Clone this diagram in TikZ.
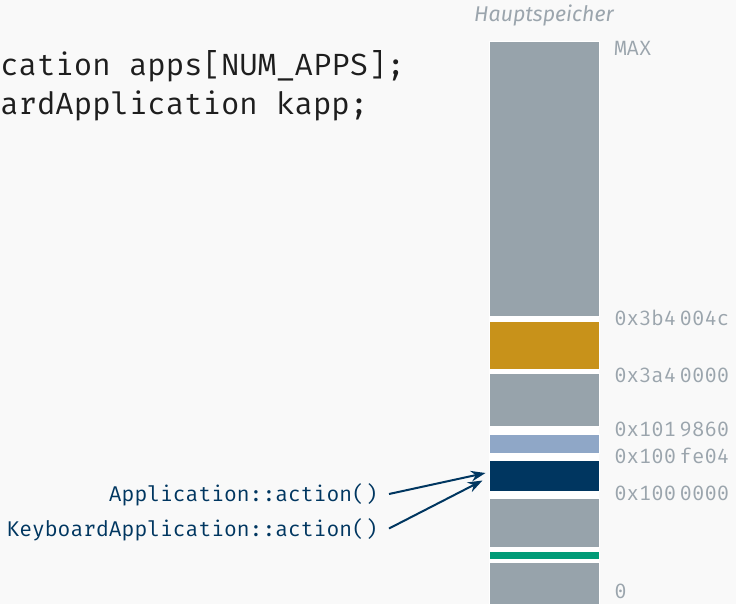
\documentclass[tikz,border=0pt]{standalone}
\usepackage{fontspec}
\setmainfont{Fira Sans}
\setmonofont{Fira Mono}
\usetikzlibrary{calc,arrows.meta}
\definecolor{bgc}{HTML}{F9F9F9}
\definecolor{blkgrey}{HTML}{97A3AB}
\definecolor{blkorange}{HTML}{C8921A}
\definecolor{blklight}{HTML}{8FA7C7}
\definecolor{blknavy}{HTML}{003660}
\definecolor{blkgreen}{HTML}{009B77}
\definecolor{lblgrey}{HTML}{9BA5AD}
\definecolor{codeink}{HTML}{1E1E1E}
\tikzset{
  memblk/.style={draw=white, line width=0.75pt, inner sep=0pt, minimum width=82.5pt, anchor=north},
  addr/.style={font=\fontsize{15.5pt}{17pt}\selectfont\ttfamily, text=lblgrey, inner sep=0pt, anchor=base west},
  call/.style={font=\fontsize{16pt}{18pt}\selectfont\ttfamily, text=blknavy, inner sep=0pt, anchor=base east},
  code/.style={font=\fontsize{23pt}{26pt}\selectfont\ttfamily, text=codeink, inner sep=0pt, anchor=base west},
  ptr/.style={draw=blknavy, line width=1.5pt, -{Stealth[length=11pt,width=8pt]}}
}
\begin{document}
\begin{tikzpicture}[x=0.75pt,y=-0.75pt]
\fill[bgc] (0,0) rectangle (736,604);
\useasboundingbox (0,0) rectangle (736,604);
% white column behind the memory
\fill[white] (489,41) rectangle (599,604);
% memory blocks (top at y, height in px*0.75pt)
\node[memblk, fill=blkgrey,   minimum height=206.25pt] (g1) at (544,41) {};
\node[memblk, fill=blkorange, minimum height=36pt]     (or) at (544,321) {};
\node[memblk, fill=blkgrey,   minimum height=39.75pt]  (g2) at (544,373) {};
\node[memblk, fill=blklight,  minimum height=14.25pt]  (lb) at (544,434) {};
\node[memblk, fill=blknavy,   minimum height=23.25pt]  (nv) at (544,460) {};
\node[memblk, fill=blkgrey,   minimum height=36.75pt]  (g3) at (544,498) {};
\node[memblk, fill=blkgreen,  minimum height=6pt]      (gr) at (544,551) {};
\node[memblk, fill=blkgrey,   minimum height=31.5pt]   (g4) at (544,562) {};
% title
\node[font=\fontsize{16pt}{18pt}\selectfont\itshape, text=lblgrey, inner sep=0pt, anchor=base] (hs) at (544,21) {Hauptspeicher};
% addresses
\node[addr] (aMax) at (614,55)    {MAX};
\node[addr] (a1) at (614,325)   {0x3b4\,004c};
\node[addr] (a2) at (614,382)   {0x3a4\,0000};
\node[addr] (a3) at (614,436)   {0x101\,9860};
\node[addr] (a4) at (614,463.5) {0x100\,fe04};
\node[addr] (a5) at (614,500)   {0x100\,0000};
\node[addr] (a0) at (614,598.5) {0};
% code
\node[code] (c1) at (0,75)  {cation apps[NUM\_APPS];};
\node[code] (c2) at (0,114) {ardApplication kapp;};
% function labels
\node[call] (f1) at (378,501.5) {Application::action()};
\node[call] (f2) at (378,536.5) {KeyboardApplication::action()};
\coordinate (s1) at ($(f1.base east)+(11,-7.5)$);
\coordinate (s2) at ($(f2.base east)+(11,-8)$);
\draw[ptr] (s1) -- ($(nv.west)+(-3,-3)$);
\draw[ptr] (s2) -- ($(nv.west)+(-6,4.5)$);
\end{tikzpicture}
\end{document}
